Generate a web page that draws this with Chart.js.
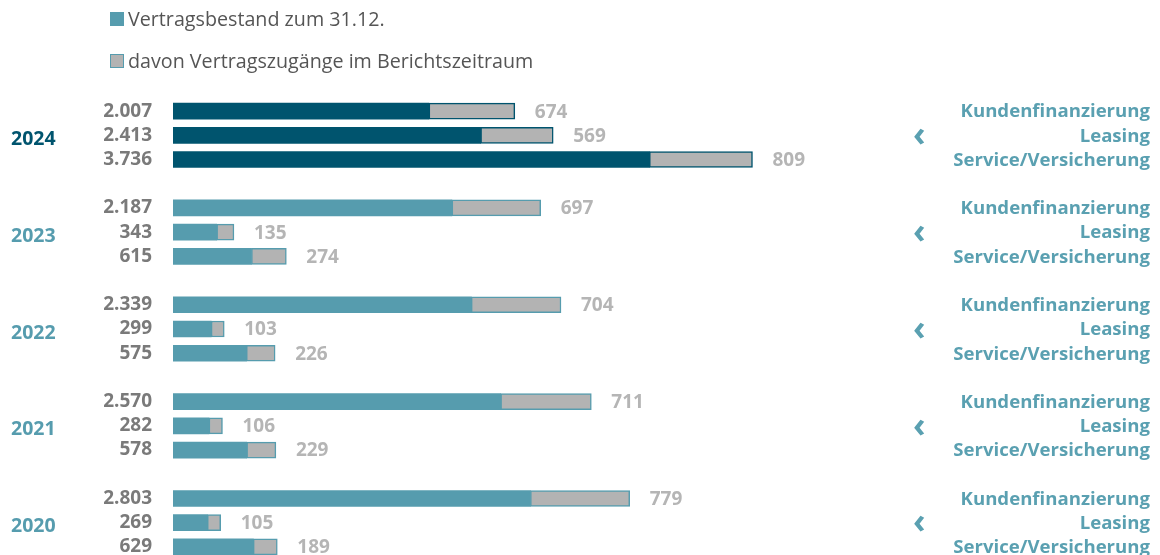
<!DOCTYPE html>
<html lang="de">
<head>
<meta charset="utf-8">
<script src="https://cdn.jsdelivr.net/npm/chart.js@4"></script>
<style>
  html, body { margin: 0; padding: 0; background: #fff; overflow: hidden; }
  #wrap { position: relative; width: 1160px; height: 559px; }
  .legend { position: absolute; left: 110px; font-family: 'Open Sans', sans-serif; font-size: 19.7px; color: #555; display: flex; align-items: center; }
  .legend .box { width: 14px; height: 14px; margin-right: 4px; box-sizing: border-box; }
</style>
</head>
<body>
<div id="wrap">
  <div class="legend" style="top:5px"><span class="box" style="background:#569cae"></span>Vertragsbestand zum 31.12.</div>
  <div class="legend" style="top:47px"><span class="box" style="background:#b3b3b3;border:1.5px solid #569cae"></span>davon Vertragszugänge im Berichtszeitraum</div>
  <canvas id="chart"></canvas>
</div>
<script>
const years = ['2024', '2023', '2022', '2021', '2020'];
const segments = ['Kundenfinanzierung', 'Leasing', 'Service/Versicherung'];

const kundenBestand = [2007, 2187, 2339, 2570, 2803];
const leasingBestand = [2413, 343, 299, 282, 269];
const serviceBestand = [3736, 615, 575, 578, 629];

const kundenZugang = [674, 697, 704, 711, 779];
const leasingZugang = [569, 135, 103, 106, 105];
const serviceZugang = [809, 274, 226, 229, 189];

const DARK = '#00546e';
const TEAL = '#569cae';
const GRAY = '#b3b3b3';

// build rows: 3 per year plus an empty row between the years
const labels = [];
const bestand = [];
const zugang = [];
const rowYear = [];
const rowSeg = [];
years.forEach((year, i) => {
  const b = [kundenBestand[i], leasingBestand[i], serviceBestand[i]];
  const z = [kundenZugang[i], leasingZugang[i], serviceZugang[i]];
  for (let s = 0; s < 3; s++) {
    labels.push(year + ' ' + segments[s]);
    bestand.push(b[s]);
    zugang.push(z[s]);
    rowYear.push(i);
    rowSeg.push(s);
  }
  if (i < years.length - 1) {
    labels.push('');
    bestand.push(null);
    zugang.push(null);
    rowYear.push(null);
    rowSeg.push(null);
  }
});

const yearColor = i => (i === 0 ? DARK : TEAL);
const rowColors = rowYear.map(i => (i === null ? TEAL : yearColor(i)));

function fmt(v) {
  if (v >= 1000) return Math.floor(v / 1000) + '.' + String(v % 1000).padStart(3, '0');
  return String(v);
}

const labelPlugin = {
  id: 'labels',
  afterDatasetsDraw(chart) {
    const ctx = chart.ctx;
    const metaZ = chart.getDatasetMeta(1);
    ctx.save();
    ctx.textBaseline = 'middle';
    for (let r = 0; r < labels.length; r++) {
      if (rowYear[r] === null) continue;
      const barZ = metaZ.data[r];
      const y = barZ.y;
      ctx.font = 'bold 19px "Open Sans", sans-serif';
      // Bestand left of the bar
      ctx.fillStyle = '#7a7a7a';
      ctx.textAlign = 'right';
      ctx.fillText(fmt(bestand[r]), 152, y);
      // Zugang right of the bar
      ctx.fillStyle = '#b5b5b5';
      ctx.textAlign = 'left';
      ctx.fillText(fmt(zugang[r]), barZ.x + 20, y + 1);
      // segment names on the right
      ctx.font = 'bold 18.6px "Open Sans", sans-serif';
      ctx.fillStyle = '#5aa0b1';
      ctx.textAlign = 'right';
      ctx.fillText(segments[rowSeg[r]], 1150, y + 1);
      if (rowSeg[r] === 1) {
        ctx.font = 'bold 19.5px "Open Sans", sans-serif';
        ctx.fillStyle = yearColor(rowYear[r]);
        ctx.textAlign = 'left';
        ctx.fillText(years[rowYear[r]], 11, y + 4);
        ctx.font = 'bold 34px "Open Sans", sans-serif';
        ctx.fillStyle = '#5aa0b1';
        ctx.fillText('‹', 913, y + 1);
      }
    }
    ctx.restore();
  }
};

new Chart(document.getElementById('chart').getContext('2d'), {
  type: 'bar',
  data: {
    labels,
    datasets: [
      {
        label: 'Vertragsbestand zum 31.12.',
        data: bestand,
        backgroundColor: rowColors,
        borderColor: rowColors,
        borderWidth: 0,
        barThickness: 16
      },
      {
        label: 'davon Vertragszugänge im Berichtszeitraum',
        data: zugang,
        backgroundColor: GRAY,
        borderColor: rowColors,
        borderWidth: 1.5,
        borderSkipped: false,
        barThickness: 16
      }
    ]
  },
  options: {
    indexAxis: 'y',
    responsive: true,
    maintainAspectRatio: false,
    animation: false,
    layout: { padding: { left: 173, right: 222, top: 99, bottom: 0 } },
    scales: {
      x: { stacked: true, min: 0, max: 6000, display: false },
      y: { stacked: true, display: false }
    },
    plugins: {
      legend: { display: false },
      tooltip: { enabled: false }
    }
  },
  plugins: [labelPlugin]
});
</script>
</body>
</html>
